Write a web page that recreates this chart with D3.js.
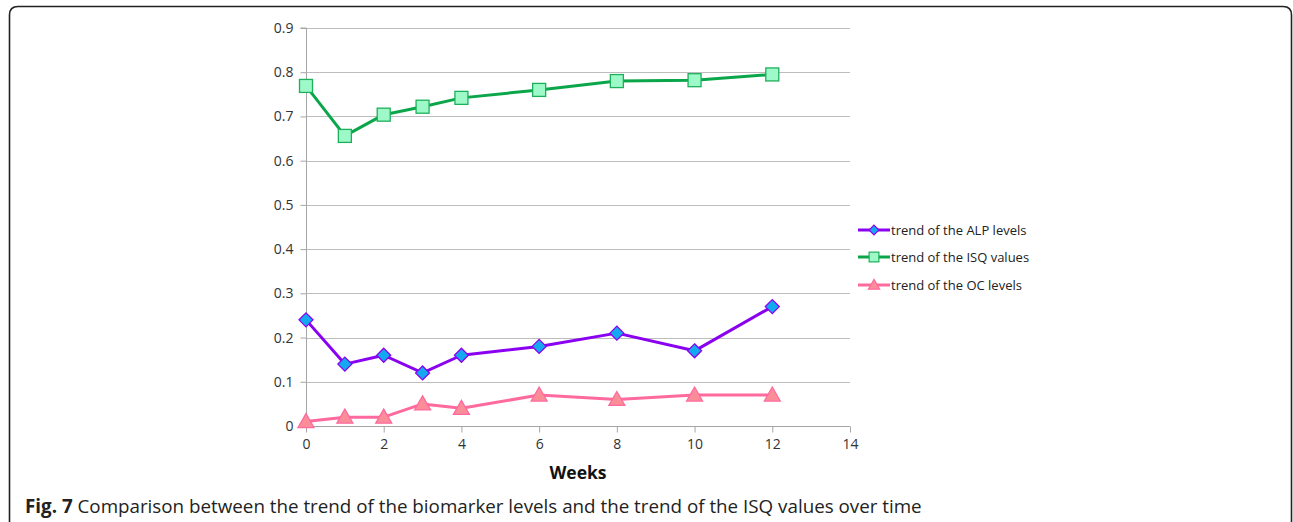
<!DOCTYPE html>
<html><head><meta charset="utf-8">
<script src="https://cdn.jsdelivr.net/npm/d3@7"></script>
<style>
html,body{margin:0;padding:0;background:#fff;}
svg{display:block;}
</style></head>
<body>
<svg id="c" width="1293" height="522"></svg>
<script>
const weeks = [0, 1, 2, 3, 4, 6, 8, 10, 12];
const alpLevels = [0.24, 0.14, 0.16, 0.12, 0.16, 0.18, 0.21, 0.17, 0.27];
const isqValues = [0.769, 0.656, 0.704, 0.722, 0.742, 0.760, 0.780, 0.782, 0.795];
const ocLevels = [0.01, 0.02, 0.02, 0.05, 0.04, 0.07, 0.06, 0.07, 0.07];
const xTicks = [0, 2, 4, 6, 8, 10, 12, 14];
const yTicks = [0, 0.1, 0.2, 0.3, 0.4, 0.5, 0.6, 0.7, 0.8, 0.9];
const seriesNames = ["trend of the ALP levels", "trend of the ISQ values", "trend of the OC levels"];

const svg = d3.select("#c");
const font = "'Open Sans', 'DejaVu Sans', sans-serif";

// frame
svg.append("path")
  .attr("d", "M9.5,522 L9.5,15 Q9.5,6.5 18,6.5 L1283,6.5 Q1291.5,6.5 1291.5,15 L1291.5,522")
  .attr("fill", "none").attr("stroke", "#222").attr("stroke-width", 1.6);

const x = d3.scaleLinear().domain([0, 14]).range([306, 850]);
const y = d3.scaleLinear().domain([0, 0.9]).range([426, 28]);

// gridlines
svg.append("g").selectAll("line").data(yTicks.filter(d => d > 0)).join("line")
  .attr("x1", x(0)).attr("x2", x(14))
  .attr("y1", d => Math.round(y(d)) + 0.5).attr("y2", d => Math.round(y(d)) + 0.5)
  .attr("stroke", "#bdbdbd").attr("stroke-width", 1.2);

// y axis
const yAxis = svg.append("g").attr("transform", `translate(${x(0)+0.5},0)`)
  .call(d3.axisLeft(y).tickValues(yTicks).tickFormat(d => d === 0 ? "0" : d3.format(".1f")(d)).tickSize(6).tickPadding(7));
yAxis.select(".domain").attr("stroke", "#a6a6a6").attr("d", `M-6,${y(0.9)}H0V${y(0)}`);
yAxis.selectAll(".tick line").attr("stroke", "#a6a6a6");
yAxis.selectAll("text").attr("font-family", font).attr("font-size", 14).attr("fill", "#333");

// x axis
const xAxis = svg.append("g").attr("transform", `translate(0,${Math.round(y(0))+0.5})`)
  .call(d3.axisBottom(x).tickValues(xTicks).tickFormat(d3.format("d")).tickSize(6).tickPadding(7));
xAxis.select(".domain").attr("stroke", "#a6a6a6").attr("d", `M${x(0)},0H${x(14)}`);
xAxis.selectAll(".tick line").attr("stroke", "#a6a6a6");
xAxis.selectAll("text").attr("font-family", font).attr("font-size", 14).attr("fill", "#333");

svg.append("text").attr("x", (x(0)+x(14))/2).attr("y", 479)
  .attr("text-anchor", "middle").attr("font-family", font).attr("font-weight", "bold")
  .attr("font-size", 17.5).attr("fill", "#111").text("Weeks");

const series = [
  {name: seriesNames[0], values: alpLevels, line: "#8a00f0", fill: "#14a8f0", stroke: "#8a00f0", shape: "diamond"},
  {name: seriesNames[1], values: isqValues, line: "#0ba64a", fill: "#9dfac8", stroke: "#1db05a", shape: "square"},
  {name: seriesNames[2], values: ocLevels, line: "#ff6a9e", fill: "#fb8d98", stroke: "#ff6a9e", shape: "triangle"}
];

function marker(g, shape, s) {
  if (shape === "diamond") {
    g.append("path").attr("d", `M0,${-7*s}L${7*s},0L0,${7*s}L${-7*s},0Z`);
  } else if (shape === "square") {
    g.append("rect").attr("x", -6.5*s).attr("y", -6.5*s).attr("width", 13*s).attr("height", 13*s);
  } else {
    g.append("path").attr("d", `M0,${-8*s}L${8*s},${6*s}L${-8*s},${6*s}Z`);
  }
}

const line = d3.line().x(d => x(d[0])).y(d => y(d[1]));
series.forEach(sr => {
  const pts = weeks.map((w, i) => [w, sr.values[i]]);
  svg.append("path").attr("d", line(pts)).attr("fill", "none")
    .attr("stroke", sr.line).attr("stroke-width", 3).attr("stroke-linejoin", "round");
  pts.forEach(p => {
    const g = svg.append("g").attr("transform", `translate(${x(p[0])},${y(p[1])})`)
      .attr("fill", sr.fill).attr("stroke", sr.stroke).attr("stroke-width", 1.3);
    marker(g, sr.shape, 1);
  });
});

// legend
const legY = [230, 257, 285];
series.forEach((sr, i) => {
  const ly = legY[i];
  svg.append("line").attr("x1", 858).attr("x2", 890).attr("y1", ly).attr("y2", ly)
    .attr("stroke", sr.line).attr("stroke-width", 3);
  const g = svg.append("g").attr("transform", `translate(874,${ly})`)
    .attr("fill", sr.fill).attr("stroke", sr.stroke).attr("stroke-width", 1.2);
  marker(g, sr.shape, sr.shape === "square" ? 0.75 : 0.7);
  svg.append("text").attr("x", 891).attr("y", ly + 4.5).attr("font-family", font)
    .attr("font-size", 13).attr("fill", "#222").text(sr.name);
});

// caption
const cap = svg.append("text").attr("x", 25).attr("y", 513).attr("font-family", font)
  .attr("font-size", 18.8).attr("fill", "#222");
cap.append("tspan").attr("font-weight", "bold").text("Fig. 7");
cap.append("tspan").text(" Comparison between the trend of the biomarker levels and the trend of the ISQ values over time");
</script>
</body></html>
